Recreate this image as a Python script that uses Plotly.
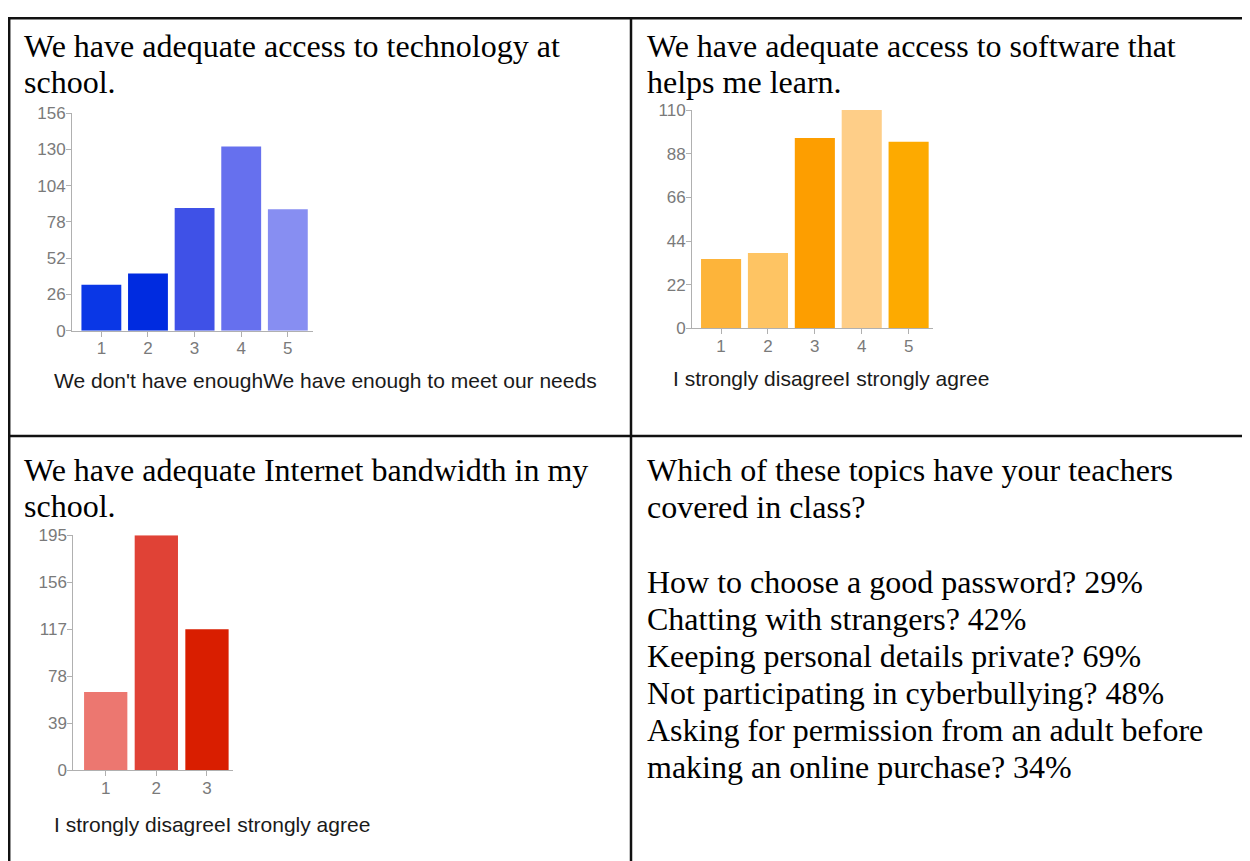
import plotly.graph_objects as go

# figure geometry in the photographed window
FW, FH = 1242, 863
OX = 8            # body margin (horizontal)
OY, SY = 15.7, 0.98  # observed vertical placement of the figure in the window

# ---------------- data ----------------
tech_title = ["We have adequate access to technology at", "school."]
tech_categories = [1, 2, 3, 4, 5]
tech_values = [33, 41, 88, 132, 87]
tech_ticks = [0, 26, 52, 78, 104, 130, 156]
tech_xlabel = "We don't have enoughWe have enough to meet our needs"

soft_title = ["We have adequate access to software that", "helps me learn."]
soft_categories = [1, 2, 3, 4, 5]
soft_values = [35, 38, 96, 110, 94]
soft_ticks = [0, 22, 44, 66, 88, 110]
soft_xlabel = "I strongly disagreeI strongly agree"

band_title = ["We have adequate Internet bandwidth in my", "school."]
band_categories = [1, 2, 3]
band_values = [65, 195, 117]
band_ticks = [0, 39, 78, 117, 156, 195]
band_xlabel = "I strongly disagreeI strongly agree"

topics_question = ["Which of these topics have your teachers", "covered in class?"]
topics = [
    "How to choose a good password?",
    "Chatting with strangers?",
    "Keeping personal details private?",
    "Not participating in cyberbullying?",
    "Asking for permission from an adult before\nmaking an online purchase?",
]
topic_pct = [29, 42, 69, 48, 34]

# ---------------- styles ----------------
tech_colors = ["#0a37e6", "#002be0", "#3f51e7", "#6670ee", "#878ef2"]
soft_colors = ["#fdb43a", "#fec463", "#fd9e00", "#fece88", "#fdaa00"]
band_colors = ["#ec7770", "#e04236", "#d91e00"]


def px(x):
    return (x - OX) / FW


def py(y):
    return 1 - ((y - OY) / SY) / FH


fig = go.Figure()

charts = [
    # (cats, vals, colors, ticks, xdom px, ydom px (bottom, top), xrange)
    (tech_categories, tech_values, tech_colors, tech_ticks, (72, 313), (330, 112), (0.37, 5.54)),
    (soft_categories, soft_values, soft_colors, soft_ticks, (692, 933), (327.7, 109), (0.38, 5.52)),
    (band_categories, band_values, band_colors, band_ticks, (73.3, 233.3), (770.7, 535), (0.36, 3.52)),
]

tickfont = dict(family="Liberation Sans", size=17, color="#7a7a7a")
layout_axes = {}
for i, (cats, vals, cols, ticks, xd, yd, xr) in enumerate(charts):
    n = "" if i == 0 else str(i + 1)
    fig.add_trace(go.Bar(
        x=cats, y=vals, marker=dict(color=cols, line=dict(width=0)),
        width=0.855, xaxis="x" + n, yaxis="y" + n, showlegend=False,
    ))
    layout_axes["xaxis" + n] = dict(
        domain=[px(xd[0]), px(xd[1])], range=list(xr), anchor="y" + n,
        tickmode="array", tickvals=cats, ticktext=[str(c) for c in cats],
        showgrid=False, zeroline=False, showline=True, linecolor="#b0b0b0", linewidth=1,
        ticks="outside", ticklen=5, tickcolor="#b0b0b0", ticklabelstandoff=-3,
        tickfont=tickfont, fixedrange=True,
    )
    layout_axes["yaxis" + n] = dict(
        domain=[py(yd[0]), py(yd[1])], range=[0, ticks[-1]], anchor="x" + n,
        tickmode="array", tickvals=ticks,
        showgrid=False, zeroline=False, showline=True, linecolor="#b0b0b0", linewidth=1,
        ticks="outside", ticklen=5, tickcolor="#b0b0b0", ticklabelstandoff=-3,
        tickfont=tickfont, fixedrange=True,
    )

annotations = []
serif = dict(family="Liberation Serif", size=32, color="#000000")
sans = dict(family="Liberation Sans", size=21, color="#1a1a1a")


def text(x, y, s, font):
    annotations.append(dict(
        x=px(x), y=py(y), xref="paper", yref="paper", text=s,
        showarrow=False, xanchor="left", yanchor="middle", font=font,
    ))


# cell titles
for k, line in enumerate(tech_title):
    text(22, 45 + 35.5 * k, line, serif)
for k, line in enumerate(soft_title):
    text(645, 45 + 35.5 * k, line, serif)
for k, line in enumerate(band_title):
    text(22, 470 + 36 * k, line, serif)

# axis captions
text(52, 380, tech_xlabel, sans)
text(671, 378, soft_xlabel, sans)
text(52, 825, band_xlabel, sans)

# topics cell
lines = list(topics_question) + [""]
for t, p in zip(topics, topic_pct):
    lines.extend((t + " " + str(p) + "%").split("\n"))
for k, line in enumerate(lines):
    if line:
        text(645, 470 + 37.2 * k, line, serif)

# table borders
shapes = []
bc = "#111111"


def hline(y, x0, x1, w=2.5):
    shapes.append(dict(type="line", xref="paper", yref="paper",
                       x0=px(x0), x1=px(x1), y0=py(y), y1=py(y),
                       line=dict(color=bc, width=w)))


def vline(x, y0, y1, w=2.5):
    shapes.append(dict(type="line", xref="paper", yref="paper",
                       x0=px(x), x1=px(x), y0=py(y0), y1=py(y1),
                       line=dict(color=bc, width=w)))


hline(16.9, 8, 1260)
hline(435.5, 8, 1260)
vline(9.2, 16, 880)
vline(631, 16, 880)

fig.update_layout(
    width=FW, height=FH,
    margin=dict(l=0, r=0, t=0, b=0),
    paper_bgcolor="white", plot_bgcolor="white",
    annotations=annotations, shapes=shapes,
    **layout_axes,
)

fig.write_html("out.html")
